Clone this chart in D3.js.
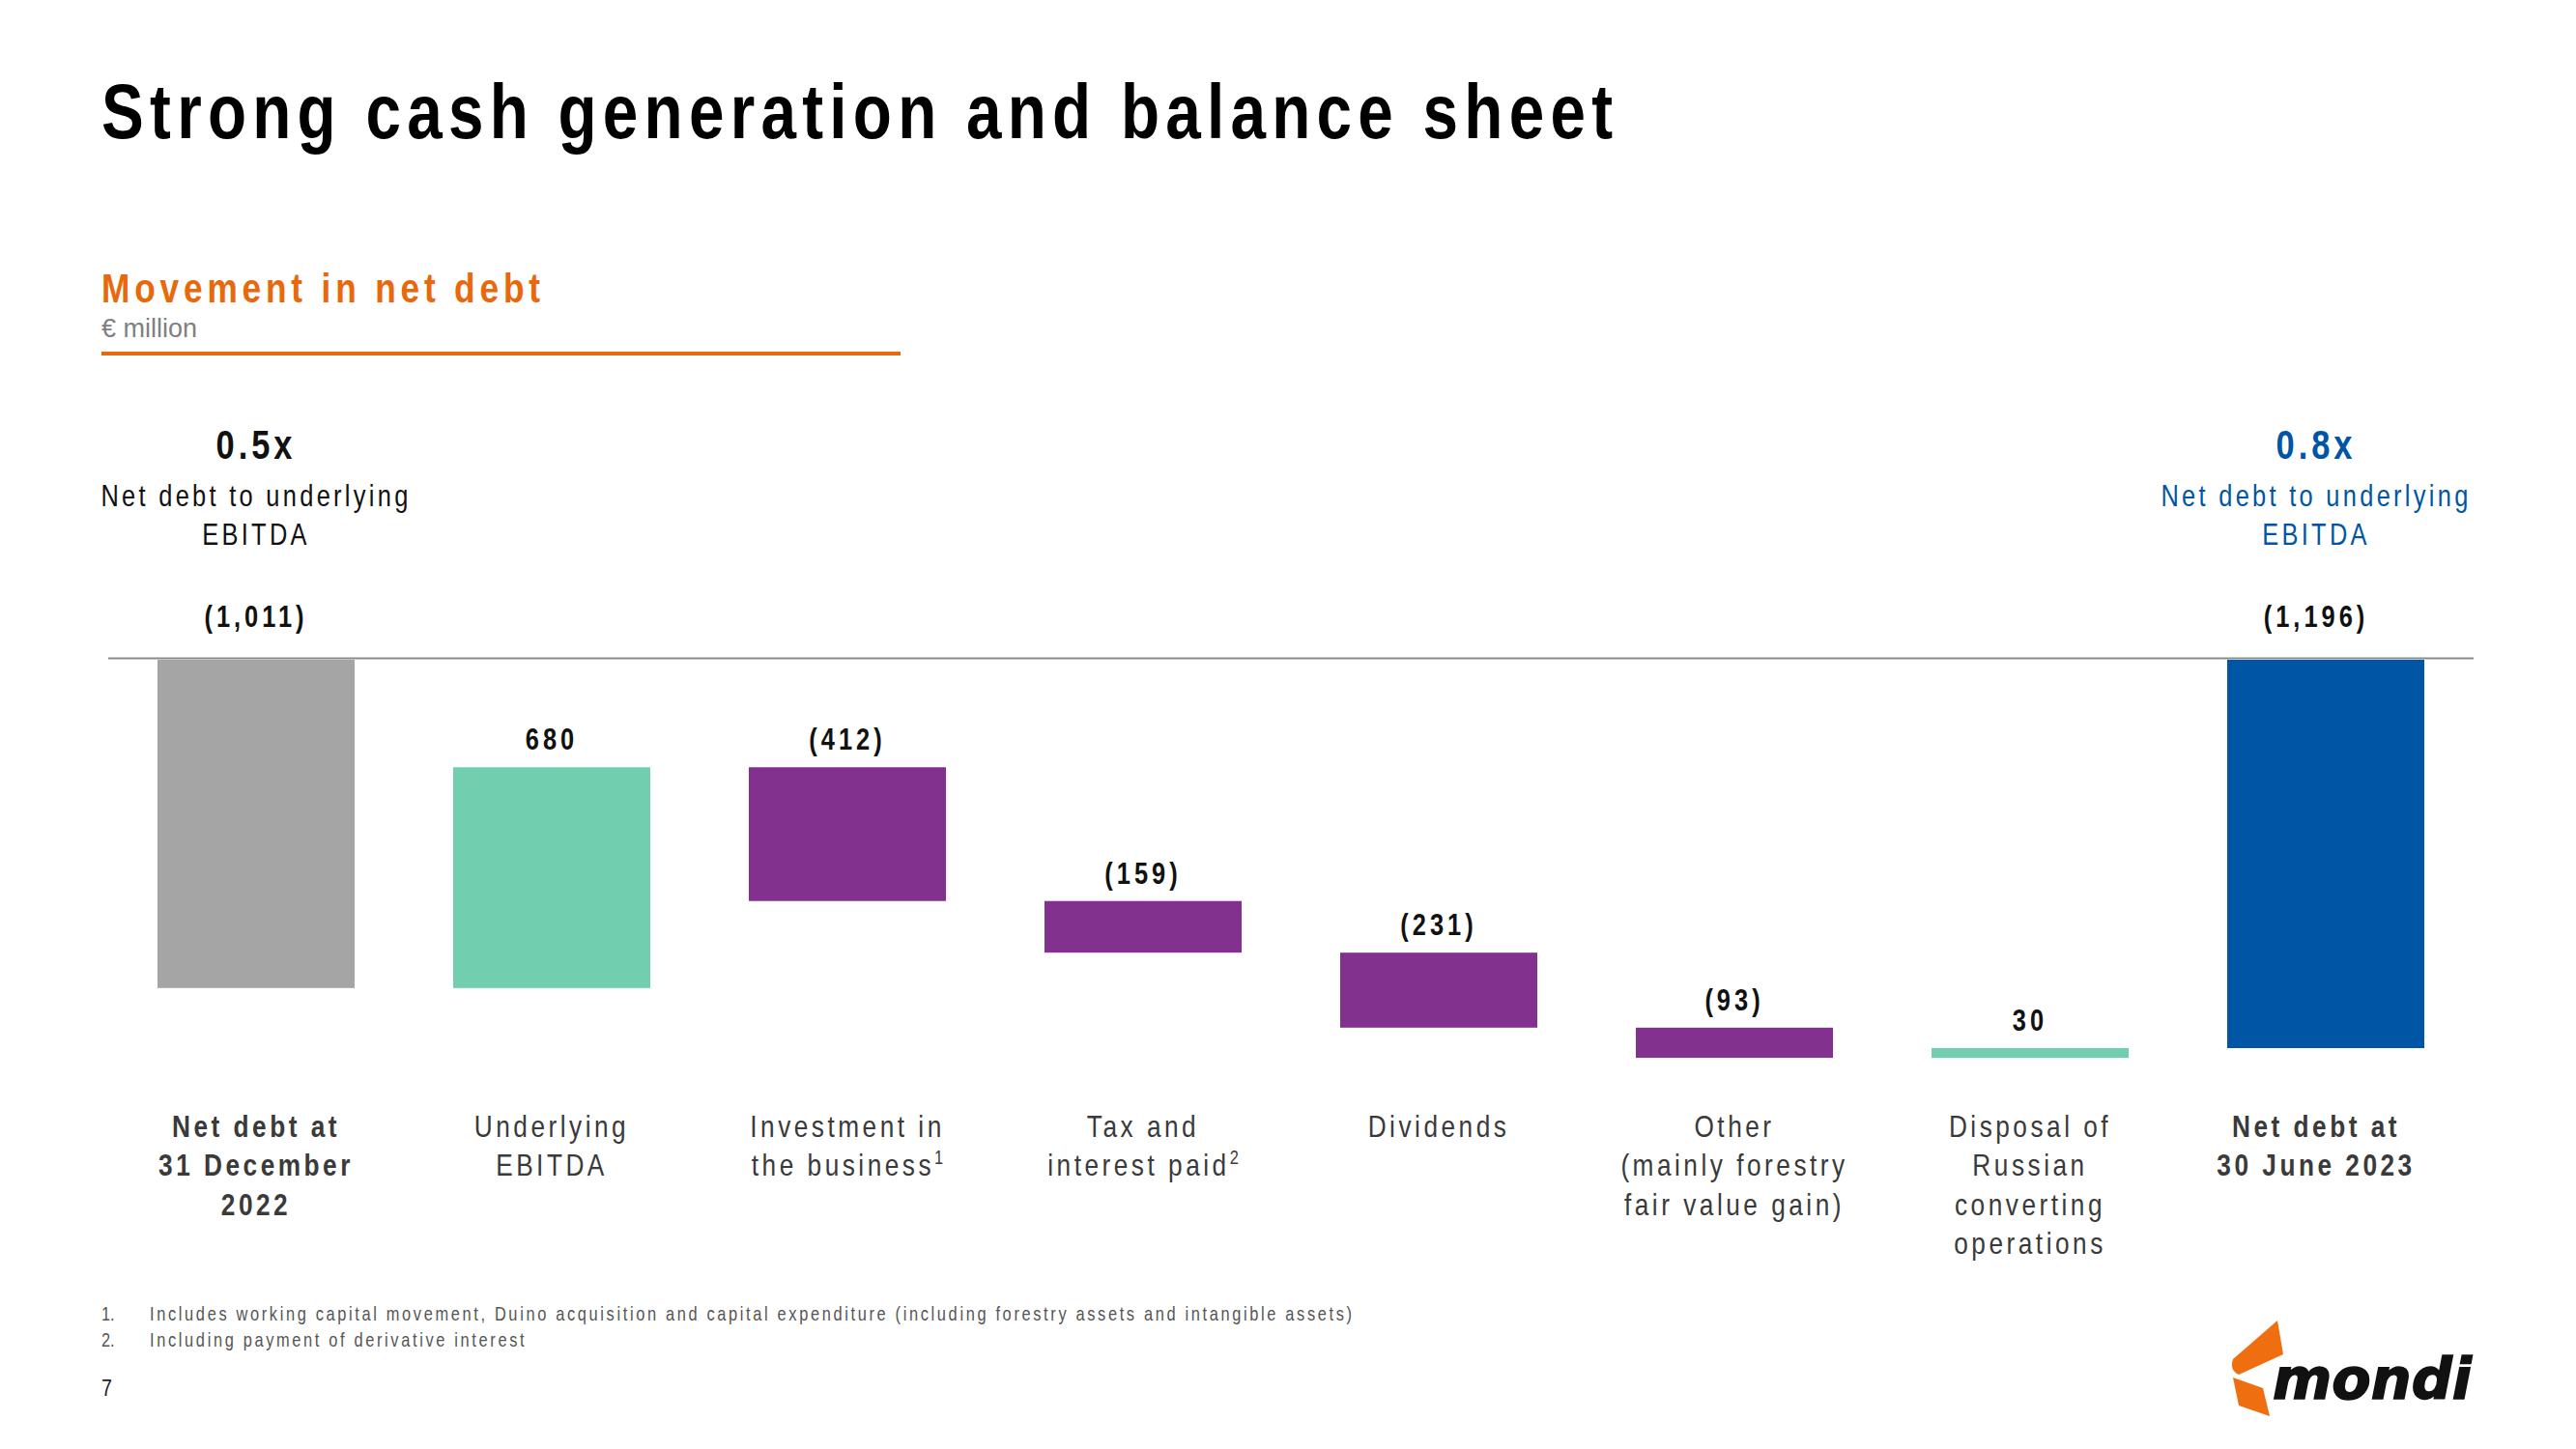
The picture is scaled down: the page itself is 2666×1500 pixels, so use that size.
<!DOCTYPE html>
<html><head><meta charset="utf-8">
<script src="https://cdn.jsdelivr.net/npm/d3@7"></script>
<style>body{margin:0;background:#fff} svg{display:block}</style>
</head><body>
<svg id="chart" width="2666" height="1500"></svg>
<script>
const categories = [
  ["Net debt at", "31 December", "2022"],
  ["Underlying", "EBITDA"],
  ["Investment in", "the business"],
  ["Tax and", "interest paid"],
  ["Dividends"],
  ["Other", "(mainly forestry", "fair value gain)"],
  ["Disposal of", "Russian", "converting", "operations"],
  ["Net debt at", "30 June 2023"]
];
const footnoteRefs = ["", "", "1", "2", "", "", "", ""];
const values = [1011, 680, -412, -159, -231, -93, 30, 1196];
const kinds = ["start", "inflow", "outflow", "outflow", "outflow", "outflow", "inflow", "end"];
const valueLabels = ["(1,011)", "680", "(412)", "(159)", "(231)", "(93)", "30", "(1,196)"];
const leverageValues = ["0.5x", "0.8x"];
const leverageText = ["Net debt to underlying", "EBITDA"];
const footnotes = [
  "Includes working capital movement, Duino acquisition and capital expenditure (including forestry assets and intangible assets)",
  "Including payment of derivative interest"
];
const titleText = "Strong cash generation and balance sheet";
const subtitleText = "Movement in net debt";
const unitText = "€ million";
const pageNumber = "7";

const colors = {start: "#A5A5A5", inflow: "#71CFAF", outflow: "#82318E", end: "#0055A5"};
const SANS = "'Liberation Sans',Arial,sans-serif";
const SX = 0.82; // horizontal condensation (Arial Narrow look)
const ORANGE = "#E8680C", BLUE = "#0055A5";

const svg = d3.select("#chart");

// condensed text helper: spacing given in final (screen) pixels
function ntext(parent, x, y, str, o) {
  const g = parent.append("g").attr("transform", `translate(${x},${y}) scale(${SX},1)`);
  const t = g.append("text").attr("x", 0).attr("y", 0)
    .attr("text-anchor", o.anchor || "start")
    .style("font-family", SANS).style("font-size", o.size + "px")
    .style("font-weight", o.weight || "normal")
    .attr("fill", o.fill || "#000");
  if (str !== null) t.text(str);
  if (o.fitWidth) {
    const w0 = t.node().getComputedTextLength();
    const n = str.length;
    const s = (o.fitWidth / SX - w0) / (n - 1);
    t.style("letter-spacing", s + "px");
    t.attr("data-sp", s);
  } else if (o.spacing != null) {
    t.style("letter-spacing", (o.spacing / SX) + "px");
  }
  return t;
}

// waterfall computation
let level = 0;
const bars = values.map((v, i) => {
  const k = kinds[i];
  let y0, y1;
  if (k === "start" || k === "end") { y0 = 0; y1 = v; level = v; }
  else if (k === "inflow") { y0 = level - v; y1 = level; level = y0; }
  else { y0 = level; y1 = level - v; level = y1; }
  return {i, k, y0, y1, label: valueLabels[i]};
});

const x = d3.scaleBand().domain(d3.range(categories.length))
  .range([112, 2560]).paddingInner(1/3).paddingOuter(1/6);
const y = d3.scaleLinear().domain([0, 1196]).range([683, 1085]);
const textShift = i => (kinds[i] === "end" ? -10 : 0);

// Title block
ntext(svg, 105, 143, titleText, {size: 80, weight: "bold", fitWidth: 1564, fill: "#000"});
ntext(svg, 105, 313, subtitleText, {size: 43, weight: "bold", fitWidth: 454, fill: ORANGE});
svg.append("text").attr("x", 105).attr("y", 349)
  .style("font-family", SANS).style("font-size", "27px")
  .attr("fill", "#7F7F7F").text(unitText);
svg.append("rect").attr("x", 105).attr("y", 364).attr("width", 827).attr("height", 4).attr("fill", ORANGE);

// Leverage annotations
const annX = [x(0) + x.bandwidth() / 2, x(7) + x.bandwidth() / 2 + textShift(7)];
const annColor = ["#111", BLUE];
[0, 1].forEach(j => {
  ntext(svg, annX[j], 475, leverageValues[j], {size: 42, weight: "bold", spacing: 4, anchor: "middle", fill: annColor[j]});
  leverageText.forEach((t, li) => {
    ntext(svg, annX[j], 524 + li * 40, t, {size: 31, spacing: 3.3, anchor: "middle", fill: annColor[j]});
  });
});

// Baseline
svg.append("line").attr("x1", x.range()[0]).attr("x2", x.range()[1])
  .attr("y1", 681.5).attr("y2", 681.5).attr("stroke", "#8C8C8C").attr("stroke-width", 2);

// Bars
svg.append("g").selectAll("rect").data(bars).join("rect")
  .attr("x", d => x(d.i)).attr("width", x.bandwidth())
  .attr("y", d => y(d.y0)).attr("height", d => y(d.y1) - y(d.y0))
  .attr("fill", d => colors[d.k]);

// Value labels
bars.forEach(d => {
  const cx = x(d.i) + x.bandwidth() / 2 + textShift(d.i);
  const ly = (d.k === "start" || d.k === "end") ? y(0) - 34 : y(d.y0) - 18;
  ntext(svg, cx, ly, d.label, {size: 31, weight: "bold", spacing: 4, anchor: "middle", fill: "#111"});
});

// Category labels
categories.forEach((lines, i) => {
  const bold = kinds[i] === "start" || kinds[i] === "end";
  const t = ntext(svg, x(i) + x.bandwidth() / 2 + textShift(i), 1177, null,
    {size: 32, weight: bold ? "bold" : "normal", spacing: 3.5, anchor: "middle", fill: "#3A3A3A"});
  lines.forEach((ln, li) => {
    t.append("tspan").attr("x", 0).attr("y", li * 40.5).text(ln);
    if (li === lines.length - 1 && footnoteRefs[i]) {
      t.append("tspan").attr("dy", -12).style("font-size", "20px").style("letter-spacing", "0px").text(footnoteRefs[i]);
    }
  });
});

// Footnotes
const fn0 = ntext(svg, 155, 1367, footnotes[0], {size: 20, fitWidth: 1244, fill: "#555"});
const fsp = +fn0.attr("data-sp");
footnotes.forEach((f, i) => {
  ntext(svg, 105, 1367 + i * 27, (i + 1) + ".", {size: 20, fill: "#555"});
  if (i > 0) {
    ntext(svg, 155, 1367 + i * 27, f, {size: 20, fill: "#555"}).style("letter-spacing", fsp + "px");
  }
});
ntext(svg, 105, 1445, pageNumber, {size: 24, fill: "#222"});

// Logo
const logo = svg.append("g");
logo.append("path").attr("d", "M2311,1407 L2357,1367 L2363,1402 L2317,1423 Q2307,1418 2311,1407 Z").attr("fill", "#EE6E10");
logo.append("path").attr("d", "M2311,1426 L2342,1437 L2349,1466 L2317,1455 Z").attr("fill", "#EE6E10");
logo.append("text").attr("x", 2352).attr("y", 1448).attr("textLength", 206).attr("lengthAdjust", "spacingAndGlyphs")
  .style("font-family", "'DejaVu Sans',sans-serif").style("font-weight", "bold").style("font-style", "italic")
  .style("font-size", "58px").attr("fill", "#111").attr("stroke", "#111").attr("stroke-width", 1.5).text("mondi");
</script>
</body></html>
